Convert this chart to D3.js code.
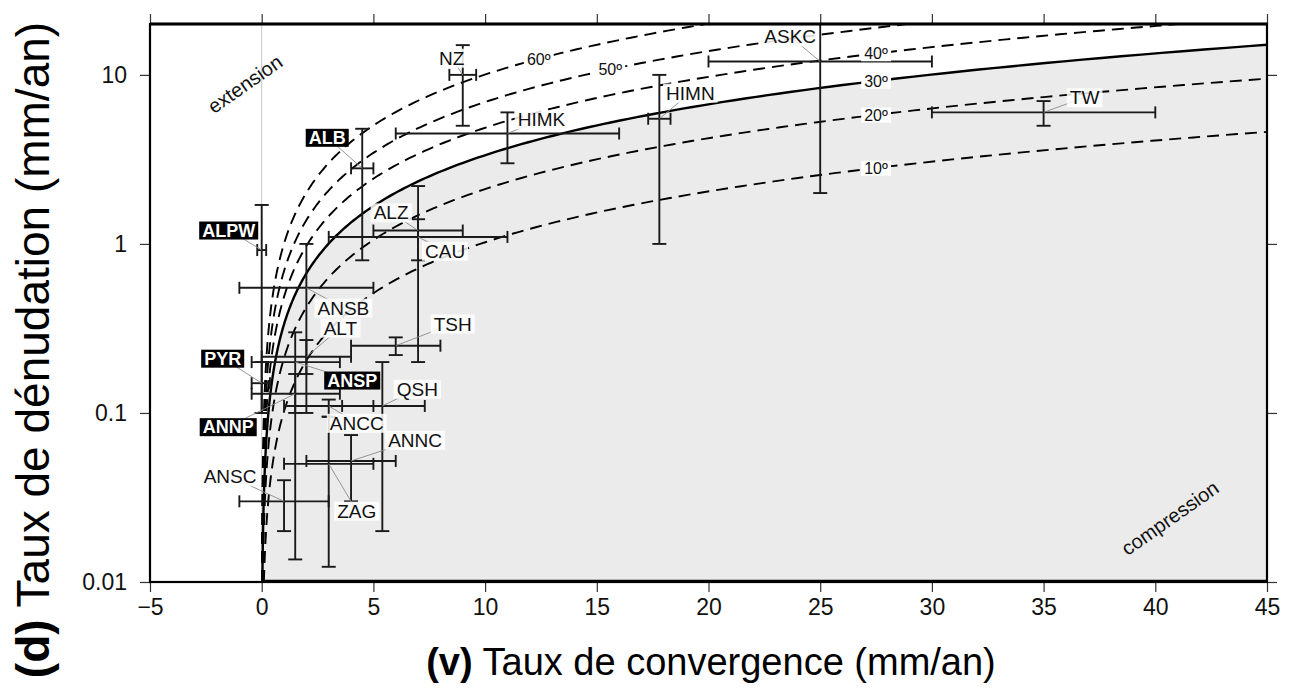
<!DOCTYPE html>
<html>
<head>
<meta charset="utf-8">
<script src="https://cdn.jsdelivr.net/npm/d3@7"></script>
<style>
  body { margin: 0; background: #fff; }
  svg { display: block; }
  text { font-family: "Liberation Sans", Arial, Helvetica, sans-serif; }
</style>
</head>
<body>
<svg id="chart"></svg>
<script>
// sites, convergence rate v (mm/an) and denudation rate d (mm/an) with ranges
const sites   = ["NZ", "ASKC", "HIMK", "HIMN", "TW", "ALB", "ALPW", "ALZ", "CAU", "ANSB",
                 "ALT", "TSH", "PYR", "ANSP", "QSH", "ANNP", "ANCC", "ANNC", "ZAG", "ANSC"];
const vel     = [9,   25, 11, 17.8, 35, 4.5, 0,    7,   7,   2,    2,    6,    0,     1.5,   5.4,  1.5,   3,     4,     3,      1];
const velMin  = [8.4, 20, 6,  17.3, 30, 4,   -0.2, 5,   3,   -1,   0,    4,    -0.45, -0.45, 3.6,  -0.45, 1,     2,     1,      -1];
const velMax  = [9.6, 30, 16, 18.3, 40, 5,   0.2,  9,   11,  5,    4,    8,    0.37,  3.5,   7.3,  3.5,   5,     6,     5,      3];
const den     = [10,  12, 4.5, 5.5, 6,  2.8, 0.92, 1.2, 1.1, 0.55, 0.215, 0.25, 0.15,  0.2,   0.11, 0.13,  0.11,  0.052, 0.05,   0.03];
const denMin  = [5,   2,  3,   1,   5,  0.8, 0.1,  0.8, 0.2, 0.1,  0.17, 0.22, 0.1,   0.0136, 0.02, 0.1,   0.095, 0.03,  0.0123, 0.02];
const denMax  = [15,  30, 6,   10,  7,  4.8, 1.7,  1.4, 2.2, 1.0,  0.27, 0.28, 0.2,   0.3,   0.2,  0.17,  0.12,  0.074, 0.095,  0.04];
const highlighted = ["ALB", "ALPW", "PYR", "ANSP", "ANNP"];

const xTicks = [-5, 0, 5, 10, 15, 20, 25, 30, 35, 40, 45];
const yTicks = [0.01, 0.1, 1, 10];

// reference lines d = k * v * tan(angle)
const angles = [10, 20, 30, 40, 50, 60];
const kRatio = 0.58;
const angleLabelV = [27.5, 27.5, 27.5, 27.5, 15.6, 12.4];

// label offsets (px) from each point
const labelOffset = [[-11,-17],[-30,-25],[34,-14],[31,-26],[41,-15],[-35,-31],[-33,-20],[-27,-18],[27,14],[37,20],
                     [34,-29],[57,-22],[-39,-25],[57,18],[35,-17],[-67,33],[28,17],[64,-21],[28,47],[-54,-25]];

const W = 1295, H = 693;
const pLeft = 150, pRight = 1267, pTop = 24, pBottom = 582;

const svg = d3.select("#chart").attr("width", W).attr("height", H);

const x = d3.scaleLinear().domain([-5, 45]).range([pLeft, pRight]);
const y = d3.scaleLog().domain([0.01, 20]).range([pBottom, pTop]);

svg.append("defs").append("clipPath").attr("id", "plot")
    .append("rect").attr("x", pLeft).attr("y", pTop)
    .attr("width", pRight - pLeft).attr("height", pBottom - pTop);

const g = svg.append("g").attr("clip-path", "url(#plot)");

function curvePoints(angle) {
    const slope = kRatio * Math.tan(angle * Math.PI / 180);
    const pts = [];
    for (let e = -2; e <= 1.4; e += 0.01) {
        const d = Math.pow(10, e);
        pts.push([d / slope, d]);
    }
    return pts;
}

const line = d3.line().x(p => x(p[0])).y(p => y(p[1]));

// compression (shaded) region below the 30° line
const shade = curvePoints(30).filter(p => p[0] <= 45);
shade.push([45, kRatio * 45 * Math.tan(Math.PI / 6)]);
shade.push([45, 0.01]);
shade.unshift([0, 0.01]);
g.append("path").attr("d", line(shade) + "Z")
    .attr("fill", "#ebebeb").attr("stroke", "none");

g.append("line")
    .attr("x1", x(0)).attr("x2", pRight)
    .attr("y1", pBottom - 1).attr("y2", pBottom - 1)
    .attr("stroke", "#000").attr("stroke-width", 2.5);

// gray line at v = 0
g.append("line")
    .attr("x1", x(0)).attr("x2", x(0))
    .attr("y1", pTop).attr("y2", pBottom)
    .attr("stroke", "#c8c8c8").attr("stroke-width", 1);

angles.forEach(a => {
    g.append("path").attr("d", line(curvePoints(a)))
        .attr("fill", "none").attr("stroke", "#000")
        .attr("stroke-width", a === 30 ? 2.4 : 1.9)
        .attr("stroke-dasharray", a === 30 ? null : "12,7");
});

// error bars
const bars = g.append("g").attr("stroke", "#1a1a1a").attr("stroke-width", 1.9);
sites.forEach((s, i) => {
    const cx = x(vel[i]), cy = y(den[i]);
    const y1 = y(denMax[i]), y2 = y(denMin[i]);
    const x1 = x(velMin[i]), x2 = x(velMax[i]);
    bars.append("line").attr("x1", cx).attr("x2", cx).attr("y1", y1).attr("y2", y2);
    bars.append("line").attr("x1", cx - 7).attr("x2", cx + 7).attr("y1", y1).attr("y2", y1);
    bars.append("line").attr("x1", cx - 7).attr("x2", cx + 7).attr("y1", y2).attr("y2", y2);
    bars.append("line").attr("x1", x1).attr("x2", x2).attr("y1", cy).attr("y2", cy);
    bars.append("line").attr("x1", x1).attr("x2", x1).attr("y1", cy - 6).attr("y2", cy + 6);
    bars.append("line").attr("x1", x2).attr("x2", x2).attr("y1", cy - 6).attr("y2", cy + 6);
});

// site labels with leader lines
const labels = svg.append("g");
sites.forEach((s, i) => {
    const cx = x(vel[i]), cy = y(den[i]);
    const lx = cx + labelOffset[i][0], ly = cy + labelOffset[i][1];
    const hi = highlighted.includes(s);
    labels.append("line")
        .attr("x1", lx).attr("y1", ly).attr("x2", cx).attr("y2", cy)
        .attr("stroke", "#8a8a8a").attr("stroke-width", 0.9);
    const t = labels.append("text")
        .attr("x", lx).attr("y", ly)
        .attr("text-anchor", "middle").attr("dy", "0.36em")
        .attr("font-size", hi ? 18 : 19)
        .attr("font-weight", hi ? "bold" : "normal")
        .attr("fill", hi ? "#fff" : "#111")
        .text(s);
    const bb = t.node().getBBox();
    labels.insert("rect", function() { return t.node(); })
        .attr("x", bb.x - 3).attr("y", bb.y + 1)
        .attr("width", bb.width + 6).attr("height", bb.height - 2)
        .attr("fill", hi ? "#000" : "#fff")
        .attr("fill-opacity", hi ? 1 : 0.85);
});

// angle labels
const angleG = svg.append("g");
angles.forEach((a, i) => {
    const v = angleLabelV[i];
    const d = kRatio * v * Math.tan(a * Math.PI / 180);
    const t = angleG.append("text")
        .attr("x", x(v)).attr("y", y(d))
        .attr("text-anchor", "middle").attr("dy", "0.36em")
        .attr("font-size", 16).attr("fill", "#111")
        .text(a + "º");
    const bb = t.node().getBBox();
    angleG.insert("rect", function() { return t.node(); })
        .attr("x", bb.x - 3).attr("y", bb.y + 1)
        .attr("width", bb.width + 6).attr("height", bb.height - 2)
        .attr("fill", "#fff");
});

svg.append("text")
    .attr("transform", `translate(245,84) rotate(-35)`)
    .attr("text-anchor", "middle").attr("dy", "0.35em")
    .attr("font-size", 20).attr("fill", "#111")
    .text("extension");

svg.append("text")
    .attr("transform", `translate(1170,518) rotate(-35)`)
    .attr("text-anchor", "middle").attr("dy", "0.35em")
    .attr("font-size", 20).attr("fill", "#111")
    .text("compression");

// axes
const tickFmtX = d => d < 0 ? "\u2212" + Math.abs(d) : d;
const axB = svg.append("g").attr("transform", `translate(0,${pBottom})`)
    .call(d3.axisBottom(x).tickValues(xTicks).tickSize(10).tickPadding(7).tickFormat(tickFmtX));
const axT = svg.append("g").attr("transform", `translate(0,${pTop})`)
    .call(d3.axisTop(x).tickValues(xTicks).tickSize(10).tickFormat(""));
const axL = svg.append("g").attr("transform", `translate(${pLeft},0)`)
    .call(d3.axisLeft(y).tickValues(yTicks).tickSize(10).tickPadding(13).tickFormat(d3.format("~g")));
const axR = svg.append("g").attr("transform", `translate(${pRight},0)`)
    .call(d3.axisRight(y).tickValues(yTicks).tickSize(10).tickFormat(""));

[axB, axT, axL, axR].forEach(a => {
    a.select(".domain").remove();
    a.selectAll(".tick line").attr("stroke", "#333").attr("stroke-width", 1.2);
    a.selectAll(".tick text").attr("font-size", 23).attr("fill", "#111")
        .attr("font-family", "'Liberation Sans', Arial, sans-serif");
});

// frame
svg.append("rect")
    .attr("x", pLeft).attr("y", pTop)
    .attr("width", pRight - pLeft).attr("height", pBottom - pTop)
    .attr("fill", "none").attr("stroke", "#000").attr("stroke-width", 2.2);
svg.append("line")
    .attr("x1", pLeft).attr("x2", pRight).attr("y1", pTop).attr("y2", pTop)
    .attr("stroke", "#000").attr("stroke-width", 3);

// axis titles
const xt = svg.append("text")
    .attr("x", 711).attr("y", 675)
    .attr("text-anchor", "middle").attr("font-size", 38).attr("fill", "#000");
xt.append("tspan").attr("font-weight", "bold").text("(v)");
xt.append("tspan").text(" Taux de convergence (mm/an)");

const yt = svg.append("text")
    .attr("transform", "translate(49,350) rotate(-90)")
    .attr("text-anchor", "middle").attr("font-size", 46).attr("fill", "#000");
yt.append("tspan").attr("font-weight", "bold").text("(d)");
yt.append("tspan").text(" Taux de dénudation (mm/an)");
</script>
</body>
</html>
